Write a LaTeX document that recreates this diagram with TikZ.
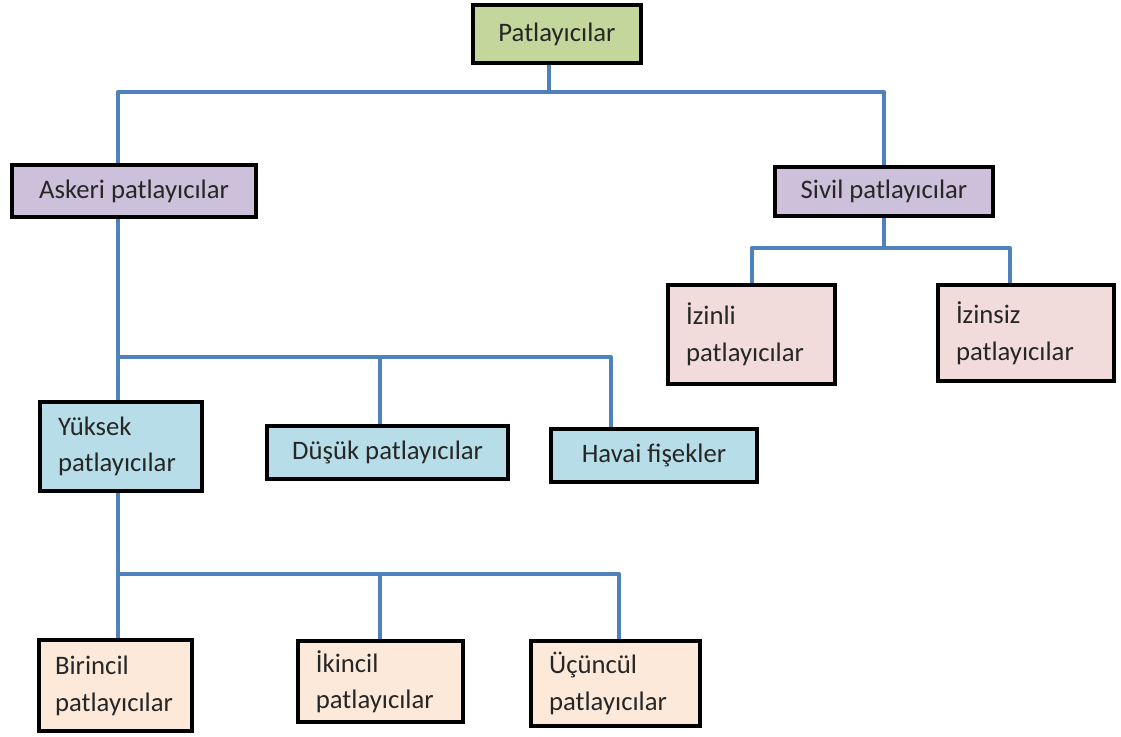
\documentclass[tikz,border=0pt]{standalone}
\usepackage{fontspec}
\setmainfont{Carlito}
\usepackage{tikz}
\usetikzlibrary{calc}

\definecolor{topgreen}{HTML}{C3D69B}
\definecolor{lilac}{HTML}{CCC0DA}
\definecolor{rose}{HTML}{F2DCDB}
\definecolor{icyblue}{HTML}{B7DEE8}
\definecolor{peach}{HTML}{FDE9D9}
\definecolor{linkblue}{HTML}{4F81BD}

\begin{document}
\begin{tikzpicture}[
	box/.style={draw=black, line width=3pt, inner sep=0pt, text=black!85,
		font=\fontsize{19}{26}\selectfont},
	twoline/.style={box, align=left, inner xsep=0.45cm},
	link/.style={draw=linkblue, line width=2.8pt, line join=round}
	]
	%%%%% START %%%%%
	\useasboundingbox (0, 0) rectangle (28.025, -18.425);
	
	\node[box, fill=topgreen, minimum width=4.2cm, minimum height=1.45cm] (patl) at (13.925, -0.85) {Patlayıcılar};
	
	\node[box, fill=lilac, minimum width=6.1cm, minimum height=1.3cm] (askeri) at (3.35, -4.775) {Askeri patlayıcılar};
	\node[box, fill=lilac, minimum width=5.45cm, minimum height=1.225cm] (sivil) at (22.1, -4.79) {Sivil patlayıcılar};
	
	\node[twoline, fill=rose, text width=3.275cm, minimum height=2.475cm] (izinli) at (18.79, -8.36) {İzinli\\patlayıcılar};
	\node[twoline, fill=rose, text width=3.5cm, minimum height=2.4cm] (izinsiz) at (25.65, -8.325) {İzinsiz\\patlayıcılar};
	
	\node[twoline, fill=icyblue, text width=3.15cm, minimum height=2.225cm] (yuksek) at (3.025, -11.16) {Yüksek\\patlayıcılar};
	\node[box, fill=icyblue, minimum width=6.025cm, minimum height=1.325cm] (dusuk) at (9.69, -11.31) {Düşük patlayıcılar};
	\node[box, fill=icyblue, minimum width=5.15cm, minimum height=1.325cm] (havai) at (16.35, -11.39) {Havai fişekler};
	
	\node[twoline, fill=peach, inner xsep=0.4cm, text width=3.025cm, minimum height=2.275cm] (birincil) at (2.89, -17.14) {Birincil\\patlayıcılar};
	\node[twoline, fill=peach, text width=3.225cm, minimum height=2.025cm] (ikincil) at (9.51, -17.04) {İkincil\\patlayıcılar};
	\node[twoline, fill=peach, text width=3.325cm, minimum height=2.125cm] (ucuncul) at (15.39, -17.09) {Üçüncül\\patlayıcılar};
	
	% top level
	\coordinate (bustop) at ([xshift=-2mm]patl.south |- 0, -2.3);
	\draw[link] ([xshift=-2mm]patl.south) -- (bustop);
	\draw[link] ([xshift=-4mm]askeri.north) |- (bustop) -| (sivil.north);
	
	% sivil
	\coordinate (bussivil) at (sivil.south |- 0, -6.2);
	\draw[link] (sivil.south) -- (bussivil);
	\draw[link] (izinli.north) |- (bussivil) -| ([xshift=-4mm]izinsiz.north);
	
	% askeri
	\coordinate (busaskeri) at ([xshift=-4mm]askeri.south |- 0, -8.925);
	\draw[link] ([xshift=-4mm]askeri.south) -- ([xshift=-0.75mm]yuksek.north);
	\draw[link] (busaskeri) -| ([xshift=-10.75mm]havai.north);
	\draw[link] ([xshift=-1.9mm]dusuk.north) -- ([xshift=-1.9mm]dusuk.north |- busaskeri);
	
	% yuksek
	\coordinate (busyuksek) at ([xshift=-0.75mm]yuksek.south |- 0, -14.35);
	\draw[link] ([xshift=-0.75mm]yuksek.south) -- ([xshift=0.6mm]birincil.north);
	\draw[link] (busyuksek) -| ([xshift=0.9mm]ucuncul.north);
	\draw[link] (ikincil.north) -- (ikincil.north |- busyuksek);
	%%%%% END %%%%%
\end{tikzpicture}
\end{document}
